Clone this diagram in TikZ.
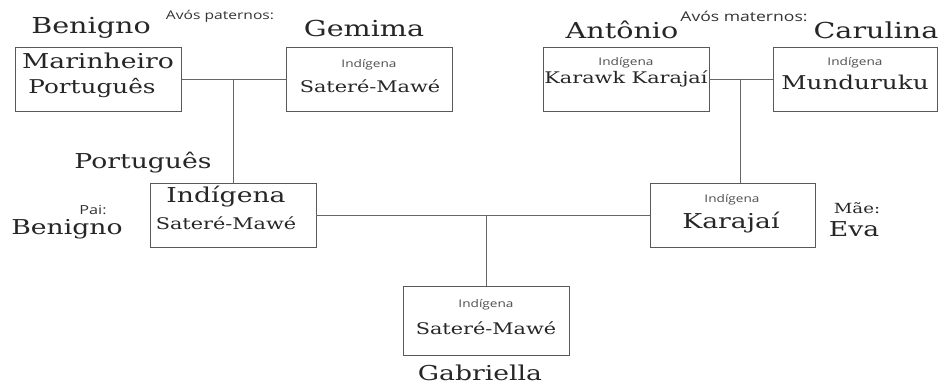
\documentclass[tikz,border=0pt]{standalone}
\usepackage{fontspec}
\setmainfont{DejaVu Serif}[FakeStretch=1.3]
\newfontfamily\sansf{Open Sans}[FakeStretch=1.3]
\usepackage{tikz}

\tikzset{
  caixa/.style={draw=black!65, line width=0.9pt, minimum width=166pt, minimum height=64pt, inner sep=0pt},
  liga/.style={draw=black!60, line width=0.9pt},
  nome/.style={font=\fontsize{20.5}{22}\selectfont, text=black!85, inner sep=0pt},
  titulo/.style={font=\fontsize{22}{24}\selectfont, text=black!85, inner sep=0pt},
  medio/.style={font=\fontsize{16}{18}\selectfont, text=black!85, inner sep=0pt},
  rotulo/.style={font=\sansf\fontsize{12}{14}\selectfont, text=black!80, inner sep=0pt},
  pequeno/.style={font=\sansf\fontsize{10.5}{12}\selectfont, text=black!70, inner sep=0pt}
}

\begin{document}
\begin{tikzpicture}[x=1pt,y=-1pt]
  \useasboundingbox (0,0) rectangle (945,385);

  % avos paternos
  \node[caixa] (avoP) at (98.5,79) {};
  \node[caixa] (avoaP) at (369,79) {};
  \node[rotulo] (tpat) at (220,16) {Avós paternos:};
  \node[titulo] (nBenignoA) at (91,28) {Benigno};
  \node[titulo] (nGemima) at (364,28) {Gemima};
  \node[nome] (tMar) at (98,61) {Marinheiro};
  \node[nome, font=\fontsize{19}{21}\selectfont] (tPort1) at (92,88) {Português};
  \node[pequeno] (tInd1) at (369,65) {Indígena};
  \node[medio] (tSat1) at (370,86) {Sateré-Mawé};

  % avos maternos
  \node[caixa] (avoM) at (626,79) {};
  \node[caixa, minimum width=164pt] (avoaM) at (855,79) {};
  \node[rotulo, font=\sansf\fontsize{13.5}{15}\selectfont] (tmat) at (744,16) {Avós maternos:};
  \node[titulo] (nAntonio) at (622,30) {Antônio};
  \node[titulo] (nCarulina) at (876,30) {Carulina};
  \node[pequeno] (tInd2) at (626,63) {Indígena};
  \node[medio] (tKar) at (626,79) {Karawk Karajaí};
  \node[pequeno] (tInd3) at (855,63) {Indígena};
  \node[nome, font=\fontsize{19}{21}\selectfont] (tMun) at (855,82) {Munduruku};

  % pais
  \node[caixa] (pai) at (233,215) {};
  \node[caixa, minimum width=165pt] (mae) at (732.5,215) {};
  \node[nome] (tPort2) at (143,163) {Português};
  \node[rotulo, font=\sansf\fontsize{12.5}{14}\selectfont] (tPai) at (93,210) {Pai:};
  \node[nome] (nBenignoP) at (67,229) {Benigno};
  \node[nome] (tInd4) at (226,197) {Indígena};
  \node[medio] (tSat2) at (226,223) {Sateré-Mawé};
  \node[pequeno] (tInd5) at (732,200) {Indígena};
  \node[nome] (tKaj) at (731,223) {Karajaí};
  \node[medio, font=\fontsize{14}{16}\selectfont] (tMae) at (857,208) {Mãe:};
  \node[nome] (nEva) at (854,229) {Eva};

  % filha
  \node[caixa, minimum height=69pt] (filha) at (486,320.5) {};
  \node[pequeno] (tInd6) at (486,305) {Indígena};
  \node[medio] (tSat3) at (486,328) {Sateré-Mawé};
  \node[nome] (nGab) at (480,373) {Gabriella};

  % ligacoes
  \coordinate (jP) at (233,79);
  \coordinate (jM) at (740,79);
  \coordinate (jF) at (486,215);
  \draw[liga] (avoP.east) -- (avoaP.west);
  \draw[liga] (jP) -- (pai.north);
  \draw[liga] (avoM.east) -- (avoaM.west);
  \draw[liga] (jM) -- (jM |- mae.north);
  \draw[liga] (pai.east) -- (mae.west);
  \draw[liga] (jF) -- (filha.north);
\end{tikzpicture}
\end{document}
